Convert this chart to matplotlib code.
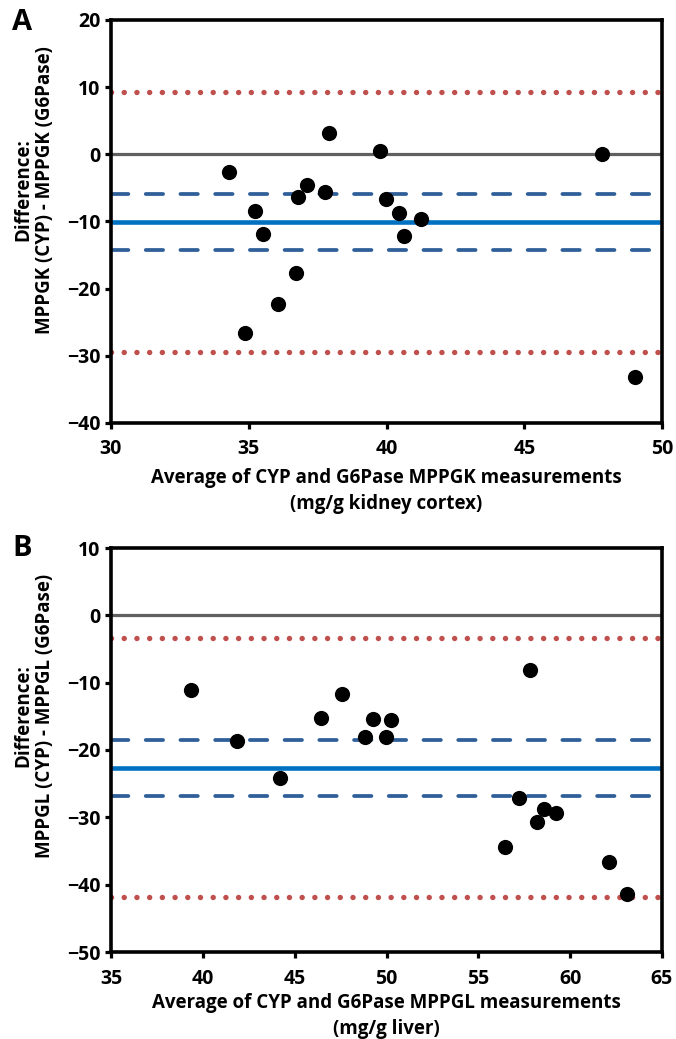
import matplotlib
matplotlib.use("Agg")
import matplotlib.pyplot as plt

plt.rcParams['font.family'] = ['Open Sans', 'DejaVu Sans']
plt.rcParams['font.weight'] = 'bold'
plt.rcParams['lines.scale_dashes'] = False

# ---------------- Panel A data (kidney, MPPGK) ----------------
a_avg = [34.27, 34.87, 35.24, 35.50, 36.05, 36.73, 36.77, 37.10, 37.78, 37.92,
         39.76, 39.98, 40.47, 40.63, 41.27, 47.82, 49.03]
a_diff = [-2.6, -26.6, -8.4, -11.9, -22.3, -17.6, -6.3, -4.6, -5.6, 3.2,
          0.5, -6.6, -8.8, -12.2, -9.7, 0.0, -33.1]
a_mean = -10.1
a_ci = [-5.9, -14.3]
a_loa = [9.3, -29.4]
a_xlim = [30, 50]
a_ylim = [-40, 20]
a_xticks = [30, 35, 40, 45, 50]
a_yticks = [-40, -30, -20, -10, 0, 10, 20]
a_xlabel = "Average of CYP and G6Pase MPPGK measurements\n(mg/g kidney cortex)"
a_ylabel = "Difference:\nMPPGK (CYP) - MPPGK (G6Pase)"

# ---------------- Panel B data (liver, MPPGL) ----------------
b_avg = [39.38, 41.86, 44.20, 46.42, 47.55, 48.82, 49.24, 49.97, 50.26,
         57.79, 57.22, 58.55, 59.24, 58.19, 56.46, 62.10, 63.11]
b_diff = [-11.1, -18.6, -24.2, -15.2, -11.7, -18.0, -15.4, -18.0, -15.5,
          -8.1, -27.2, -28.8, -29.3, -30.7, -34.4, -36.7, -41.4]
b_mean = -22.6
b_ci = [-18.5, -26.8]
b_loa = [-3.4, -41.8]
b_xlim = [35, 65]
b_ylim = [-50, 10]
b_xticks = [35, 40, 45, 50, 55, 60, 65]
b_yticks = [-50, -40, -30, -20, -10, 0, 10]
b_xlabel = "Average of CYP and G6Pase MPPGL measurements\n(mg/g liver)"
b_ylabel = "Difference:\nMPPGL (CYP) - MPPGL (G6Pase)"

W, H = 676, 1039
fig = plt.figure(figsize=(W / 100, H / 100), dpi=100)

FS = 13.5
TFS = 14


def px(x0, y0, x1, y1):
    return [x0 / W, 1 - y1 / H, (x1 - x0) / W, (y1 - y0) / H]


def panel(rect, avg, diff, mean, ci, loa, xlim, ylim, xticks, yticks,
          xlabel, ylabel, xpad, xlab_y, ylab_cy):
    ax = fig.add_axes(rect)
    ax.set_xlim(xlim)
    ax.set_ylim(ylim)
    ax.set_xticks(xticks)
    ax.set_yticks(yticks)
    for s in ax.spines.values():
        s.set_linewidth(2.6)
        s.set_color('black')
    ax.tick_params(axis='both', direction='out', length=4.5, width=2.3,
                   labelsize=TFS, color='black')
    ax.tick_params(axis='x', pad=xpad)
    ax.tick_params(axis='y', pad=3)
    for lab in ax.get_xticklabels() + ax.get_yticklabels():
        lab.set_fontweight('bold')

    ax.axhline(0, color='#606060', lw=2.3, zorder=2)
    ax.axhline(mean, color='#0070C0', lw=3.3, zorder=2)
    for v in ci:
        ax.axhline(v, color='#2F5F98', lw=2.7,
                   linestyle=(0, (12.5, 12.5)),
                   dash_capstyle='round', zorder=2)
    for v in loa:
        ax.axhline(v, color='#C0504D', lw=3.9,
                   linestyle=(0, (0.05, 9.1)),
                   dash_capstyle='round', zorder=2)
    ax.scatter(avg, diff, s=120, color='black', zorder=3, linewidths=0)

    cx = (rect[0] + rect[2] / 2)
    fig.text(cx, 1 - xlab_y / H, xlabel, ha='center', va='center',
             fontsize=FS, fontweight='bold', linespacing=1.35)
    fig.text(34 / W, 1 - ylab_cy / H, ylabel, ha='center', va='center',
             rotation=90, fontsize=FS, fontweight='bold', linespacing=1.1,
             multialignment='center')
    return ax


axA = panel(px(111, 20, 662, 423), a_avg, a_diff, a_mean, a_ci, a_loa,
            a_xlim, a_ylim, a_xticks, a_yticks, a_xlabel, a_ylabel,
            7, 491, 190)
axB = panel(px(111, 548, 662, 952), b_avg, b_diff, b_mean, b_ci, b_loa,
            b_xlim, b_ylim, b_xticks, b_yticks, b_xlabel, b_ylabel,
            8, 1016, 716)

fig.text(22 / W, 1 - 22 / H, 'A', ha='center', va='center', fontsize=21,
         fontweight='bold')
fig.text(22 / W, 1 - 548 / H, 'B', ha='center', va='center', fontsize=21,
         fontweight='bold')

fig.savefig('out.png', dpi=100)
